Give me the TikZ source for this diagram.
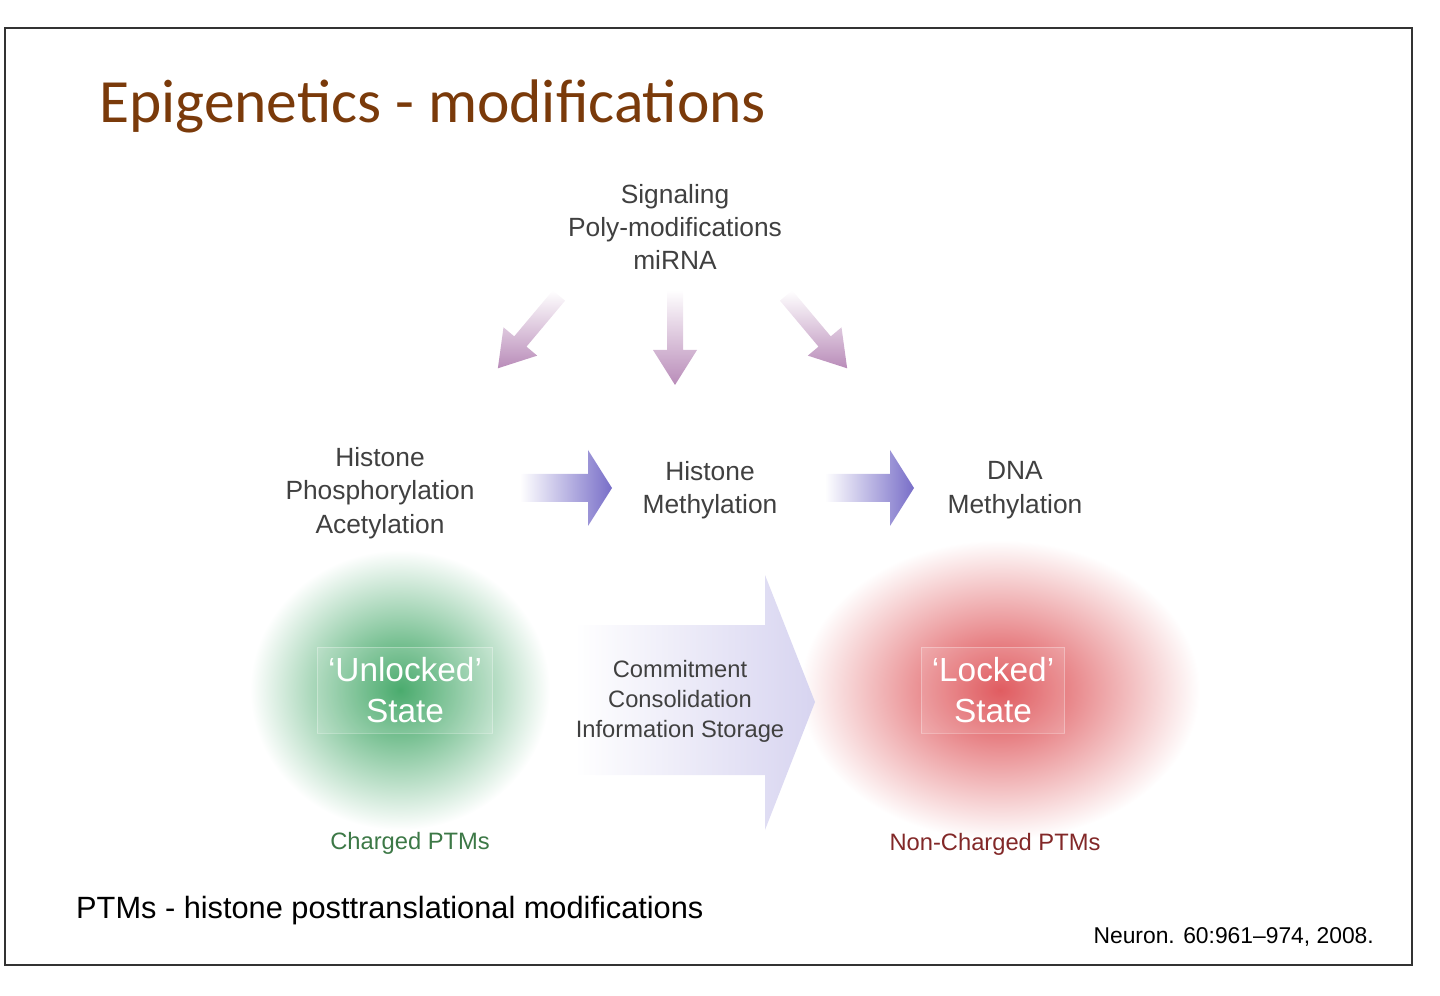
\documentclass[tikz,border=0pt]{standalone}
\usepackage{fontspec}
\setmainfont{Liberation Sans}
\newfontfamily\titlefont{Carlito}
\usetikzlibrary{positioning}
\definecolor{titlebrown}{RGB}{122,58,10}
\definecolor{arrowviolet}{RGB}{120,110,200}
\definecolor{arrowpink}{RGB}{185,140,185}
\definecolor{blobgreen}{RGB}{50,160,90}
\definecolor{blobred}{RGB}{220,70,75}
\definecolor{labelgreen}{RGB}{60,120,70}
\definecolor{labelred}{RGB}{130,40,40}
\definecolor{bigarrow}{RGB}{215,212,240}
\begin{document}
\begin{tikzpicture}[x=0.02cm,y=-0.02cm,
    body text/.style={font=\fontsize{15}{19}\selectfont,text=black!75,align=center},
    small text/.style={font=\fontsize{13.5}{16}\selectfont,align=center},
    state text/.style={font=\fontsize{19}{23}\selectfont,text=white,align=center,
      fill=white,fill opacity=0.12,text opacity=1,draw=white,draw opacity=0.3,inner sep=6pt},
    flow arrow/.style={left color=white,right color=arrowviolet,draw=none},
    in arrow/.style={top color=white,bottom color=arrowpink,draw=none}]
  \useasboundingbox (0,0) rectangle (1440,996);
  \draw[line width=1.5pt,black!80] (5,28) rectangle (1412,965);

  % title
  \node[anchor=west,font=\titlefont\fontsize{35}{40}\selectfont,text=titlebrown] (title) at (93,106) {Epigenetics - modifications};

  % sources
  \node[body text] (src) at (675,227) {Signaling\\Poly-modifications\\miRNA};
  \foreach \ang/\px/\py in {-40/530/330, 0/675/335, 40/815/330}{
    \begin{scope}[shift={(\px,\py)},rotate=\ang]
      \shade[in arrow] (-8,-45) -- (8,-45) -- (8,15) -- (22,15) -- (0,50) -- (-22,15) -- (-8,15) -- cycle;
    \end{scope}
  }

  % middle row
  \node[body text] (hpa) at (380,493) {Histone\\Phosphorylation\\Acetylation};
  \node[body text] (hm) at (710,490) {Histone\\Methylation};
  \node[body text] (dm) at (1015,490) {DNA\\Methylation};
  \shade[flow arrow] (520,474) -- (588,474) -- (588,450) -- (612,488) -- (588,526) -- (588,502) -- (520,502) -- cycle;
  \shade[flow arrow] (825,474) -- (890,474) -- (890,450) -- (914,488) -- (890,526) -- (890,502) -- (825,502) -- cycle;

  % states
  \shade[inner color=blobgreen,outer color=white] (400,690) ellipse (150 and 140);
  \shade[inner color=blobred,outer color=white] (1000,690) ellipse (200 and 150);
  \shade[left color=white,right color=bigarrow] (575,625) -- (765,625) -- (765,575) -- (815,702) -- (765,830) -- (765,775) -- (575,775) -- cycle;
  \node[state text] (unlocked) at (405,690) {`Unlocked'\\State};
  \node[state text] (locked) at (993,690) {`Locked'\\State};
  \node[body text,font=\fontsize{13.5}{17}\selectfont] (commit) at (680,701) {Commitment\\Consolidation\\Information Storage};
  \node[small text,text=labelgreen] (charged) at (410,843) {Charged PTMs};
  \node[small text,text=labelred] (noncharged) at (995,844) {Non-Charged PTMs};

  % footer
  \node[anchor=west,font=\fontsize{17.5}{20}\selectfont] (ptm) at (70,911) {PTMs - histone posttranslational modifications};
  \node[anchor=east,font=\fontsize{13}{15}\selectfont] (ref) at (1380,937) {Neuron. 60:961--974, 2008.};
\end{tikzpicture}
\end{document}
